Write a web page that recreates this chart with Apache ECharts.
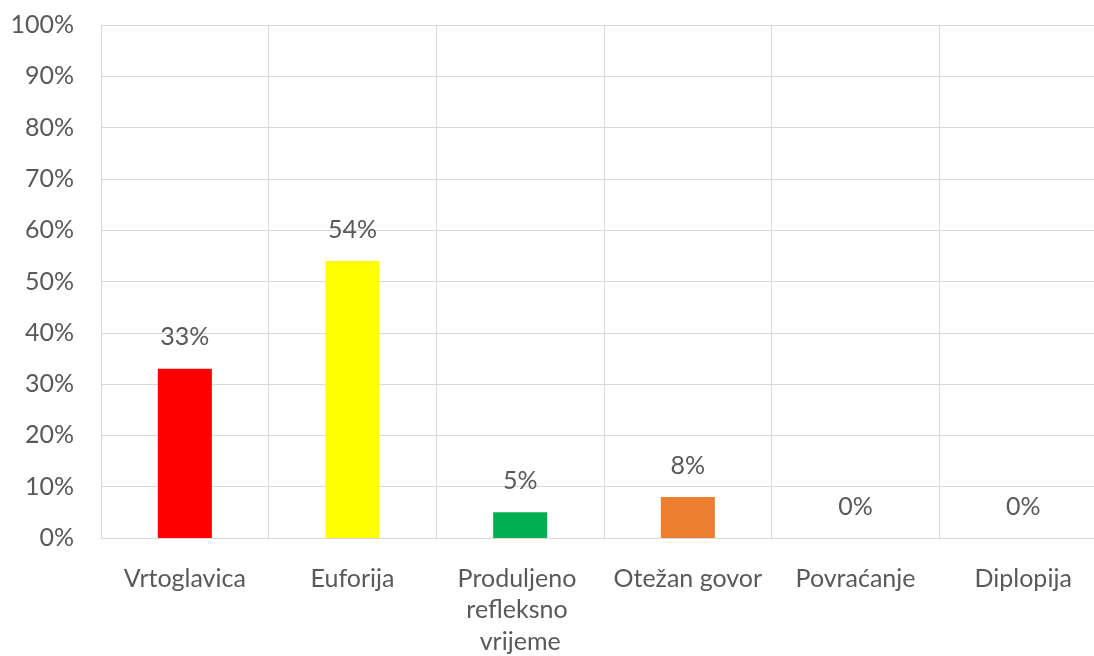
<!DOCTYPE html>
<html>
<head>
<meta charset="utf-8">
<script src="https://cdn.jsdelivr.net/npm/echarts@6/dist/echarts.min.js"></script>
<style>
  html, body { margin: 0; padding: 0; background: #fff; }
  #chart { width: 1094px; height: 656px; }
</style>
</head>
<body>
<div id="chart"></div>
<script>
// podaci
var categories = ["Vrtoglavica", "Euforija", "Produljeno refleksno vrijeme", "Otežan govor", "Povraćanje", "Diplopija"];
var values = [33, 54, 5, 8, 0, 0];
var barColors = ["#ff0000", "#ffff00", "#00b050", "#ed7d31", "#a5a5a5", "#4472c4"];

var chart = echarts.init(document.getElementById("chart"));
var txt = "#595959";
var font = "Lato";

chart.setOption({
  animation: false,
  grid: { left: 101, top: 25, width: 1006, height: 513, outerBoundsMode: "none" },
  xAxis: {
    type: "category",
    data: categories,
    axisLine: { lineStyle: { color: "#d9d9d9" } },
    axisTick: { show: false },
    splitLine: { show: true, lineStyle: { color: "#d9d9d9" } },
    axisLabel: {
      interval: 0,
      margin: 25,
      color: txt,
      fontFamily: font,
      fontSize: 25,
      lineHeight: 31.5,
      width: 170,
      overflow: "break"
    }
  },
  yAxis: {
    type: "value",
    min: 0,
    max: 100,
    interval: 10,
    axisLine: { show: false },
    axisTick: { show: false },
    splitLine: { lineStyle: { color: "#d9d9d9" } },
    axisLabel: {
      formatter: "{value}%",
      margin: 27,
      color: txt,
      fontFamily: font,
      fontSize: 25
    }
  },
  series: [{
    type: "bar",
    barWidth: 54,
    data: values.map(function (v, i) {
      return { value: v, itemStyle: { color: barColors[i] } };
    }),
    label: {
      show: true,
      position: "top",
      distance: 19,
      formatter: "{c}%",
      color: txt,
      fontFamily: font,
      fontSize: 25
    }
  }]
});
</script>
</body>
</html>
